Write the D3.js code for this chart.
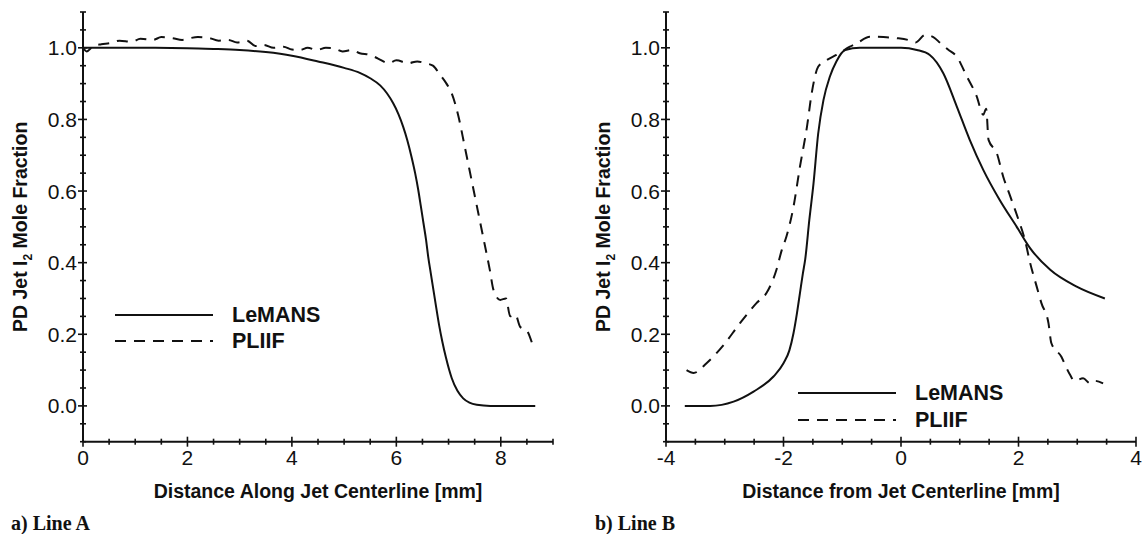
<!DOCTYPE html>
<html>
<head>
<meta charset="utf-8">
<script src="https://cdn.jsdelivr.net/npm/d3@7"></script>
<style>
  body { margin: 0; background: #fff; }
  text { font-family: "Liberation Sans", Arial, Helvetica, sans-serif; fill: #111; }
</style>
</head>
<body>
<svg id="chart"></svg>
<script>
// Line A: distance along jet centerline [mm]
const lemansAX = [0, 1, 2, 2.5, 3, 3.5, 4.0, 4.5, 5.0, 5.3, 5.5, 5.69, 5.82, 5.94, 6.04, 6.13, 6.21, 6.29, 6.36, 6.42, 6.47, 6.52, 6.57, 6.61, 6.66, 6.71, 6.76, 6.82, 6.88, 6.95, 7.06, 7.17, 7.28, 7.4, 7.54, 7.8, 8.2, 8.66];
const lemansAY = [1.0, 1.0, 0.999, 0.997, 0.994, 0.988, 0.978, 0.962, 0.944, 0.93, 0.915, 0.895, 0.873, 0.845, 0.815, 0.78, 0.742, 0.696, 0.65, 0.603, 0.557, 0.51, 0.463, 0.417, 0.37, 0.324, 0.278, 0.225, 0.18, 0.135, 0.078, 0.042, 0.021, 0.009, 0.003, 0.0, 0.0, 0.0];
const pliifAX = [0.0, 0.07, 0.2, 0.35, 0.52, 0.7, 0.93, 1.1, 1.34, 1.5, 1.72, 1.9, 2.05, 2.2, 2.4, 2.6, 2.78, 2.95, 3.14, 3.3, 3.46, 3.65, 3.84, 4.0, 4.16, 4.3, 4.48, 4.65, 4.79, 4.97, 5.15, 5.3, 5.5, 5.65, 5.85, 6.0, 6.23, 6.4, 6.55, 6.7, 6.84, 6.96, 7.06, 7.19, 7.31, 7.44, 7.57, 7.7, 7.79, 7.86, 7.99, 8.1, 8.18, 8.28, 8.37, 8.5, 8.6];
const pliifAY = [1.0, 0.99, 1.005, 1.01, 1.013, 1.02, 1.017, 1.025, 1.022, 1.03, 1.027, 1.022, 1.027, 1.03, 1.028, 1.02, 1.022, 1.015, 1.02, 1.005, 1.008, 1.0, 1.003, 0.995, 0.994, 1.0, 0.994, 1.0, 0.999, 0.99, 0.994, 0.985, 0.98, 0.97, 0.957, 0.965, 0.957, 0.962, 0.957, 0.95, 0.924, 0.9, 0.873, 0.808, 0.724, 0.631, 0.538, 0.445, 0.38, 0.324, 0.296, 0.3, 0.25, 0.255, 0.221, 0.21, 0.175];

// Line B: distance from jet centerline [mm]
const lemansBX = [-3.68, -3.25, -2.85, -2.51, -2.17, -2.0, -1.9, -1.83, -1.77, -1.72, -1.67, -1.63, -1.56, -1.49, -1.41, -1.32, -1.21, -1.1, -0.95, -0.7, 0, 0.27, 0.49, 0.72, 0.95, 1.17, 1.4, 1.68, 1.97, 2.2, 2.54, 2.99, 3.47];
const lemansBY = [0, 0, 0.012, 0.04, 0.082, 0.119, 0.155, 0.203, 0.26, 0.315, 0.37, 0.41, 0.52, 0.62, 0.76, 0.854, 0.92, 0.962, 0.994, 1.0, 1.0, 0.994, 0.98, 0.929, 0.836, 0.743, 0.659, 0.575, 0.5, 0.44, 0.38, 0.333, 0.3];
const pliifBX = [-3.65, -3.53, -3.31, -3.02, -2.74, -2.46, -2.29, -2.12, -2.03, -1.95, -1.83, -1.72, -1.6, -1.52, -1.41, -1.26, -1.1, -0.87, -0.75, -0.53, -0.3, -0.07, 0.12, 0.25, 0.41, 0.55, 0.67, 0.8, 0.95, 1.12, 1.29, 1.4, 1.45, 1.49, 1.63, 1.74, 1.86, 2.0, 2.11, 2.2, 2.31, 2.39, 2.51, 2.56, 2.73, 2.82, 2.88, 2.95, 3.1, 3.22, 3.3, 3.44];
const pliifBY = [0.1, 0.092, 0.119, 0.17, 0.231, 0.287, 0.315, 0.38, 0.435, 0.473, 0.556, 0.668, 0.78, 0.873, 0.947, 0.966, 0.98, 1.003, 1.013, 1.031, 1.03, 1.027, 1.022, 1.015, 1.036, 1.03, 1.013, 0.995, 0.975, 0.92, 0.864, 0.813, 0.83, 0.743, 0.706, 0.64, 0.585, 0.52, 0.463, 0.398, 0.333, 0.287, 0.231, 0.175, 0.137, 0.105, 0.086, 0.07, 0.077, 0.063, 0.07, 0.063];

const yTicks = [0.0, 0.2, 0.4, 0.6, 0.8, 1.0];
const xTicksA = [0, 2, 4, 6, 8];
const xTicksB = [-4, -2, 0, 2, 4];
const seriesNames = ['LeMANS', 'PLIIF'];

const width = 1143, height = 534;
const svg = d3.select('#chart').attr('width', width).attr('height', height);
svg.append('rect').attr('width', width).attr('height', height).attr('fill', '#fff');

const y = d3.scaleLinear().domain([-0.1, 1.1]).range([441.7, 12]);
const dash = '11,8';

function panel(p) {
  const x = d3.scaleLinear().domain(p.xDomain).range([p.x0, p.x1]);
  const g = svg.append('g');
  const yBase = y(-0.1);

  // axis lines
  g.append('line').attr('x1', p.x0).attr('x2', p.x0).attr('y1', y(1.1)).attr('y2', yBase)
    .attr('stroke', '#111').attr('stroke-width', 2);
  g.append('line').attr('x1', p.x0).attr('x2', p.x1).attr('y1', yBase).attr('y2', yBase)
    .attr('stroke', '#111').attr('stroke-width', 2);

  // y ticks, minor every 0.05
  d3.range(-0.1, 1.1001, 0.05).forEach(v => {
    const major = yTicks.some(t => Math.abs(t - v) < 1e-6);
    const s = major ? 5 : 3;
    g.append('line').attr('x1', p.x0 - s).attr('x2', p.x0 + (major ? 4 : 3))
      .attr('y1', y(v)).attr('y2', y(v)).attr('stroke', '#111').attr('stroke-width', 1.6);
  });
  yTicks.forEach(v => {
    g.append('text').attr('x', p.x0 - 6).attr('y', y(v)).attr('dy', '0.36em')
      .attr('text-anchor', 'end').style('font-size', '21px').text(d3.format('.1f')(v));
  });

  // x ticks, minor every 0.5
  d3.range(p.xDomain[0], p.xDomain[1] + 0.001, 0.5).forEach(v => {
    const major = p.xTicks.includes(v);
    const s = major ? 5 : 3;
    g.append('line').attr('x1', x(v)).attr('x2', x(v)).attr('y1', yBase - s).attr('y2', yBase + s)
      .attr('stroke', '#111').attr('stroke-width', 1.6);
  });
  p.xTicks.forEach(v => {
    g.append('text').attr('x', x(v)).attr('y', yBase + 23).attr('text-anchor', 'middle')
      .style('font-size', '21px').text(String(v));
  });

  // axis titles
  g.append('text').attr('x', (p.x0 + p.x1) / 2).attr('y', 498).attr('text-anchor', 'middle')
    .style('font-size', '19.5px').style('font-weight', 'bold').text(p.xTitle);
  const yt = g.append('text').attr('transform', `translate(${p.yTitleX},${(y(1.1) + yBase) / 2}) rotate(-90)`)
    .attr('text-anchor', 'middle').style('font-size', '19.5px').style('font-weight', 'bold');
  yt.append('tspan').text('PD Jet I');
  yt.append('tspan').attr('dy', 5).style('font-size', '12px').text('2');
  yt.append('tspan').attr('dy', -5).text(' Mole Fraction');

  // curves
  const line = d3.line().x(d => x(d[0])).y(d => y(d[1])).curve(d3.curveMonotoneX);
  g.append('path').datum(d3.zip(p.lemansX, p.lemansY)).attr('d', line)
    .attr('fill', 'none').attr('stroke', '#111').attr('stroke-width', 2);
  g.append('path').datum(d3.zip(p.pliifX, p.pliifY)).attr('d', line)
    .attr('fill', 'none').attr('stroke', '#111').attr('stroke-width', 2).attr('stroke-dasharray', dash);

  // legend
  seriesNames.forEach((name, i) => {
    const ly = p.legY[i];
    g.append('line').attr('x1', p.legX).attr('x2', p.legX + 98).attr('y1', ly).attr('y2', ly)
      .attr('stroke', '#111').attr('stroke-width', 2).attr('stroke-dasharray', i ? dash : null);
    g.append('text').attr('x', p.legX + 117).attr('y', ly + 7).style('font-size', '21.5px')
      .style('font-weight', 'bold').text(name);
  });

  // caption
  svg.append('text').attr('x', p.capX).attr('y', 530)
    .style('font-family', '"Liberation Serif", "Times New Roman", serif')
    .style('font-size', '20px').style('font-weight', 'bold').text(p.caption);
}

panel({
  x0: 83, x1: 553, xDomain: [0, 9], xTicks: xTicksA,
  xTitle: 'Distance Along Jet Centerline [mm]', yTitleX: 27,
  lemansX: lemansAX, lemansY: lemansAY, pliifX: pliifAX, pliifY: pliifAY,
  legX: 115, legY: [315, 341], capX: 11, caption: 'a) Line A'
});
panel({
  x0: 666, x1: 1136, xDomain: [-4, 4], xTicks: xTicksB,
  xTitle: 'Distance from Jet Centerline [mm]', yTitleX: 610,
  lemansX: lemansBX, lemansY: lemansBY, pliifX: pliifBX, pliifY: pliifBY,
  legX: 798, legY: [393, 420], capX: 595, caption: 'b) Line B'
});
</script>
</body>
</html>
